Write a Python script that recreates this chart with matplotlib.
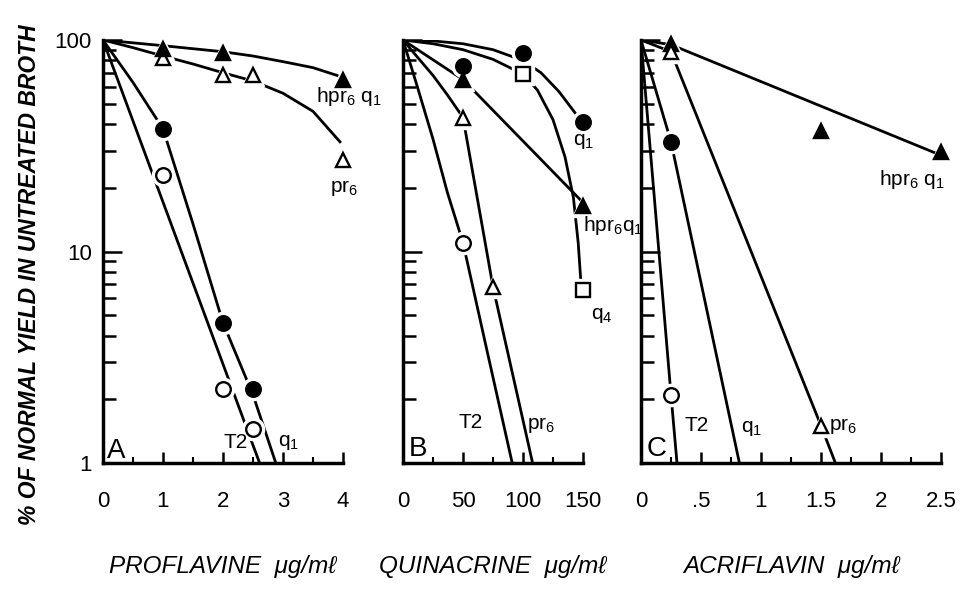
import matplotlib
matplotlib.use("Agg")
import matplotlib.pyplot as plt
from matplotlib.ticker import LogLocator, NullFormatter, FixedLocator

plt.rcParams['font.family'] = ['Liberation Sans', 'DejaVu Sans']
plt.rcParams['mathtext.default'] = 'regular'

# ---- panel A: proflavine (ug/ml) ----
a_T2_x = [1, 2, 2.5]
a_T2_y = [23, 2.25, 1.45]
a_T2_fit_x = [0, 2.61]
a_T2_fit_y = [100, 1]

a_q1_x = [1, 2, 2.5]
a_q1_y = [38, 4.6, 2.25]
a_q1_fit_x = [0, 0.5, 1, 1.5, 2, 2.5, 2.88]
a_q1_fit_y = [100, 63, 38, 13.5, 4.6, 2.1, 1]

a_pr6_x = [1, 2, 2.5, 4]
a_pr6_y = [82, 68, 68, 27]
a_pr6_fit_x = [0, 0.5, 1, 1.5, 2, 2.5, 3, 3.5, 3.95]
a_pr6_fit_y = [100, 92, 84, 77, 70, 64, 56, 46, 33]

a_hpr_x = [1, 2, 4]
a_hpr_y = [91, 87, 65]
a_hpr_fit_x = [0, 1, 2, 2.5, 3, 3.5, 3.9]
a_hpr_fit_y = [100, 94, 88, 84, 79, 74, 68]

# ---- panel B: quinacrine (ug/ml) ----
b_q1_x = [50, 100, 150]
b_q1_y = [75, 87, 41]
b_q1_fit_x = [0, 25, 50, 75, 100, 115, 130, 145]
b_q1_fit_y = [100, 99, 96, 90, 80, 70, 57, 44]

b_q4_x = [100, 150]
b_q4_y = [69, 6.6]
b_q4_fit_x = [0, 25, 50, 75, 100, 112, 125, 135, 142, 146, 148]
b_q4_fit_y = [100, 96, 90, 81, 69, 58, 42, 28, 18, 11, 7.5]

b_hpr_x = [50, 150]
b_hpr_y = [65, 16.5]
b_hpr_fit_x = [0, 50, 148]
b_hpr_fit_y = [100, 65, 17.5]

b_pr6_x = [50, 75]
b_pr6_y = [43, 6.8]
b_pr6_fit_x = [0, 12, 25, 37, 50, 75, 108]
b_pr6_fit_y = [100, 83, 68, 55, 43, 6.8, 1]

b_T2_x = [50]
b_T2_y = [11]
b_T2_fit_x = [0, 12, 25, 37, 50, 70, 91]
b_T2_fit_y = [100, 60, 34, 19, 11, 3.4, 1]

# ---- panel C: acriflavin (ug/ml) ----
c_hpr_x = [0.25, 1.5, 2.5]
c_hpr_y = [96, 37, 29.5]
c_hpr_fit_x = [0, 0.25, 2.5]
c_hpr_fit_y = [100, 95, 28.5]

c_pr6_x = [0.25, 1.5]
c_pr6_y = [88, 1.5]
c_pr6_fit_x = [0, 0.25, 1.5, 1.62]
c_pr6_fit_y = [100, 88, 1.5, 1]

c_q1_x = [0.25]
c_q1_y = [33]
c_q1_fit_x = [0, 0.25, 0.82]
c_q1_fit_y = [100, 33, 1]

c_T2_x = [0.25]
c_T2_y = [2.1]
c_T2_fit_x = [0, 0.25, 0.3]
c_T2_fit_y = [100, 2.1, 1]

xticks_a = [0, 1, 2, 3, 4]
xticks_b = [0, 50, 100, 150]
xticks_c = [0, 0.5, 1, 1.5, 2, 2.5]
xticklabels_c = ['0', '.5', '1', '1.5', '2', '2.5']

# marker styles: (marker, filled)
styles = {'T2': ('o', False), 'q1': ('o', True), 'pr6': ('^', False),
          'hpr': ('^', True), 'q4': ('s', False)}

fig = plt.figure(figsize=(9.61, 5.89), dpi=100)
H = 589.0
W = 961.0
bot = 1 - 463 / H
hgt = (463 - 40) / H
axA = fig.add_axes([103 / W, bot, 240 / W, hgt])
axB = fig.add_axes([403 / W, bot, 180 / W, hgt])
axC = fig.add_axes([641 / W, bot, 300 / W, hgt])


def setup(ax, xmax, xticks, minor_step):
    ax.set_yscale('log')
    ax.set_ylim(1, 100)
    ax.set_xlim(0, xmax)
    for s in ['top', 'right']:
        ax.spines[s].set_visible(False)
    for s in ['left', 'bottom']:
        ax.spines[s].set_linewidth(2.5)
    ax.set_xticks(xticks)
    minors = [i * minor_step for i in range(int(round(xmax / minor_step)) + 1)]
    ax.xaxis.set_minor_locator(FixedLocator(minors))
    ax.yaxis.set_major_locator(FixedLocator([1, 10, 100]))
    ax.yaxis.set_minor_locator(LogLocator(base=10, subs=range(2, 10)))
    ax.yaxis.set_minor_formatter(NullFormatter())
    ax.tick_params(axis='x', which='major', direction='in', length=8, width=1.8,
                   labelsize=16, pad=20)
    ax.tick_params(axis='x', which='minor', direction='in', length=4, width=1.5)
    ax.tick_params(axis='y', which='major', direction='in', length=14, width=1.8,
                   labelsize=16, pad=8)
    ax.tick_params(axis='y', which='minor', direction='in', length=9, width=1.8)


def series(ax, fx, fy, px, py, key):
    ax.plot(fx, fy, color='black', lw=2.0, zorder=2)
    m, filled = styles[key]
    ax.plot(px, py, ls='none', marker=m, ms=16, mfc='white', mec='white',
            zorder=3, clip_on=False)


def marks(ax, px, py, key):
    m, filled = styles[key]
    ms = 10.5 if m != 's' else 10
    ax.plot(px, py, ls='none', marker=m, ms=ms, mfc='black' if filled else 'white',
            mec='black', mew=1.7, zorder=4, clip_on=False)


setup(axA, 4, xticks_a, 0.5)
setup(axB, 150, xticks_b, 25)
setup(axC, 2.5, xticks_c, 0.25)
axA.set_yticklabels(['1', '10', '100'])
axB.set_yticklabels([])
axC.set_yticklabels([])
axC.set_xticklabels(xticklabels_c)

panelA = [(a_T2_fit_x, a_T2_fit_y, a_T2_x, a_T2_y, 'T2'),
          (a_q1_fit_x, a_q1_fit_y, a_q1_x, a_q1_y, 'q1'),
          (a_pr6_fit_x, a_pr6_fit_y, a_pr6_x, a_pr6_y, 'pr6'),
          (a_hpr_fit_x, a_hpr_fit_y, a_hpr_x, a_hpr_y, 'hpr')]
panelB = [(b_q1_fit_x, b_q1_fit_y, b_q1_x, b_q1_y, 'q1'),
          (b_q4_fit_x, b_q4_fit_y, b_q4_x, b_q4_y, 'q4'),
          (b_hpr_fit_x, b_hpr_fit_y, b_hpr_x, b_hpr_y, 'hpr'),
          (b_pr6_fit_x, b_pr6_fit_y, b_pr6_x, b_pr6_y, 'pr6'),
          (b_T2_fit_x, b_T2_fit_y, b_T2_x, b_T2_y, 'T2')]
panelC = [(c_hpr_fit_x, c_hpr_fit_y, c_hpr_x, c_hpr_y, 'hpr'),
          (c_pr6_fit_x, c_pr6_fit_y, c_pr6_x, c_pr6_y, 'pr6'),
          (c_q1_fit_x, c_q1_fit_y, c_q1_x, c_q1_y, 'q1'),
          (c_T2_fit_x, c_T2_fit_y, c_T2_x, c_T2_y, 'T2')]

for ax, group in [(axA, panelA), (axB, panelB), (axC, panelC)]:
    for fx, fy, px, py, key in group:
        series(ax, fx, fy, px, py, key)
    for fx, fy, px, py, key in group:
        marks(ax, px, py, key)

fs = 15
txt = dict(fontsize=fs, clip_on=False, zorder=5)
# panel A labels
axA.text(3.55, 54, 'hpr$_6$ q$_1$', ha='left', va='center', **txt)
axA.text(3.78, 20, 'pr$_6$', ha='left', va='center', **txt)
axA.text(2.0, 1.25, 'T2', ha='left', va='center', **txt)
axA.text(2.92, 1.25, 'q$_1$', ha='left', va='center', **txt)
axA.text(0.06, 1.14, 'A', ha='left', va='center', fontsize=20, clip_on=False)
# panel B labels
axB.text(142, 33, 'q$_1$', ha='left', va='center', **txt)
axB.text(150, 13.3, 'hpr$_6$q$_1$', ha='left', va='center', **txt)
axB.text(157, 5.0, 'q$_4$', ha='left', va='center', **txt)
axB.text(46, 1.55, 'T2', ha='left', va='center', **txt)
axB.text(103, 1.52, 'pr$_6$', ha='left', va='center', **txt)
axB.text(5, 1.16, 'B', ha='left', va='center', fontsize=20, clip_on=False)
# panel C labels
axC.text(1.98, 22, 'hpr$_6$ q$_1$', ha='left', va='center', **txt)
axC.text(0.36, 1.5, 'T2', ha='left', va='center', **txt)
axC.text(0.83, 1.45, 'q$_1$', ha='left', va='center', **txt)
axC.text(1.57, 1.5, 'pr$_6$', ha='left', va='center', **txt)
axC.text(0.05, 1.16, 'C', ha='left', va='center', fontsize=20, clip_on=False)

lab = dict(fontsize=17.5, style='italic', labelpad=31)
axA.set_xlabel('PROFLAVINE  μg/mℓ', **lab)
axB.set_xlabel('QUINACRINE  μg/mℓ', **lab)
axC.set_xlabel('ACRIFLAVIN  μg/mℓ', **lab)

fig.text(30 / W, 1 - 275 / H, '% OF NORMAL YIELD IN UNTREATED BROTH', rotation=90,
         ha='center', va='center', fontsize=16.5, fontweight='bold', style='italic')

fig.savefig('out.png', dpi=100)
